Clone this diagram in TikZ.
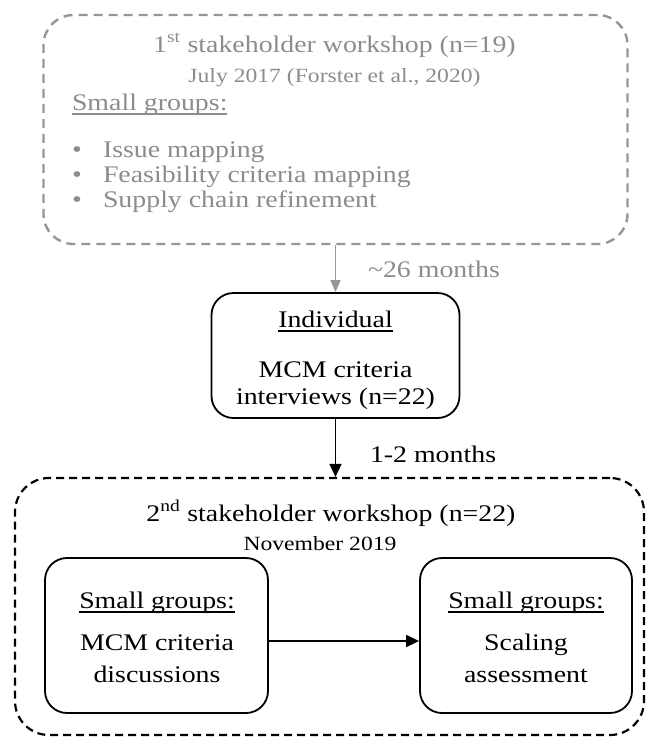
\documentclass[tikz,border=0pt]{standalone}
\usepackage{fontspec}
\setmainfont{Liberation Serif}[FakeStretch=1.17]
\usetikzlibrary{arrows.meta}
\definecolor{lgray}{RGB}{150,150,150}
\definecolor{tgray}{RGB}{140,140,140}
\newcommand{\myul}[1]{\setbox0\hbox{#1}\rlap{\rule[-5pt]{\wd0}{1.6pt}}\box0}
\tikzset{
  mainfont/.style={font=\fontsize{23.8}{27}\selectfont},
  subfont/.style={font=\fontsize{20.2}{24}\selectfont},
  txt/.style={inner sep=0pt, outer sep=0pt, mainfont},
  bul/.style={inner sep=0pt, outer sep=0pt, font=\fontsize{24}{27}\selectfont, text=tgray},
  graybox/.style={draw=lgray, line width=2.4pt, dash pattern=on 9pt off 6pt, rounded corners=30pt, inner sep=0pt},
  blackdash/.style={draw=black, line width=2.2pt, dash pattern=on 8pt off 5pt, rounded corners=34pt, inner sep=0pt},
  solidbox/.style={draw=black, line width=1.8pt, rounded corners=22pt, inner sep=0pt},
  garrow/.style={draw=lgray, line width=1.6pt, -{Triangle[length=12pt,width=10pt]}},
  barrow/.style={draw=black, line width=1.6pt, -{Triangle[length=13pt,width=12pt]}},
}
\begin{document}
\begin{tikzpicture}[x=1pt,y=-1pt]
\useasboundingbox (0,0) rectangle (648,737);
% top workshop box
\node[graybox, minimum width=584pt, minimum height=229pt] (top) at (335.5,129.5) {};
\node[txt, anchor=base, text=tgray] (t1) at (334.5,52) {1\textsuperscript{st} stakeholder workshop (n=19)};
\node[txt, anchor=base, text=tgray, subfont] (t2) at (334.5,82) {July 2017 (Forster et al., 2020)};
\node[txt, anchor=base west, text=tgray] (t3) at (72,110) {\myul{Small groups:}};
\node[bul, anchor=base] (b1) at (77,157) {\textbullet};
\node[bul, anchor=base] (b2) at (77,182) {\textbullet};
\node[bul, anchor=base] (b3) at (77,207) {\textbullet};
\node[txt, anchor=base west, text=tgray] (i1) at (103,157) {Issue mapping};
\node[txt, anchor=base west, text=tgray] (i2) at (103,182) {Feasibility criteria mapping};
\node[txt, anchor=base west, text=tgray] (i3) at (103,207) {Supply chain refinement};
% individual box
\node[solidbox, minimum width=248pt, minimum height=125pt] (ind) at (335.5,355.5) {};
\node[txt, anchor=base] (n1) at (335.5,327) {\myul{Individual}};
\node[txt, anchor=base] (n2) at (335.5,377) {MCM criteria};
\node[txt, anchor=base] (n3) at (335.5,404) {interviews (n=22)};
\node[txt, anchor=base west, text=tgray] (l1) at (368,277) {\textasciitilde26 months};
\draw[garrow] (top.south -| ind.north) -- (ind.north);
% bottom workshop box
\node[blackdash, minimum width=629pt, minimum height=257pt] (bot) at (329.5,606.5) {};
\node[txt, anchor=base west] (l2) at (370,462) {1-2 months};
\draw[barrow] (ind.south) -- (ind.south |- bot.north);
\node[txt, anchor=base] (w1) at (331,521) {2\textsuperscript{nd} stakeholder workshop (n=22)};
\node[txt, anchor=base, subfont] (w2) at (320,550) {November 2019};
% inner boxes
\node[solidbox, minimum width=223pt, minimum height=155pt] (L) at (156.5,635.5) {};
\node[txt, anchor=base] (L1) at (157,608) {\myul{Small groups:}};
\node[txt, anchor=base] (L2) at (157,650) {MCM criteria};
\node[txt, anchor=base] (L3) at (157,682) {discussions};
\node[solidbox, minimum width=212pt, minimum height=155pt] (R) at (526,635.5) {};
\node[txt, anchor=base] (R1) at (526,608) {\myul{Small groups:}};
\node[txt, anchor=base] (R2) at (526,650) {Scaling};
\node[txt, anchor=base] (R3) at (526,682) {assessment};
\draw[barrow] ([yshift=-5.5pt]L.east) -- ([yshift=-5.5pt]R.west);
\end{tikzpicture}
\end{document}
